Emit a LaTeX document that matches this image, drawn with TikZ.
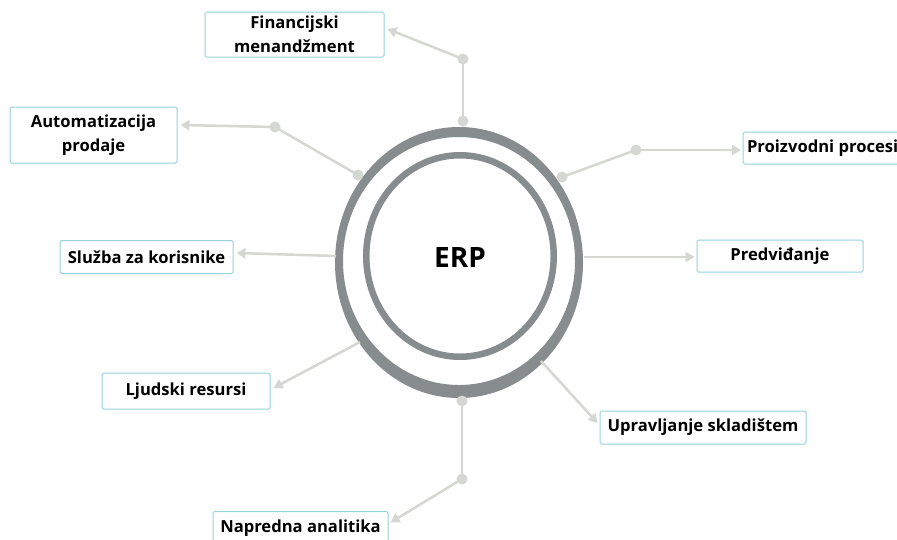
\documentclass[tikz,border=0pt]{standalone}
\usepackage{fontspec}
\setmainfont{Open Sans}
\usetikzlibrary{arrows.meta,calc}
\definecolor{ringgray}{HTML}{878C8F}
\definecolor{linkgray}{HTML}{D4D7D2}
\definecolor{boxteal}{HTML}{94D3DA}
\tikzset{
  box/.style={draw=boxteal, line width=1pt, rounded corners=1.5pt, fill=white,
    inner sep=0pt, align=center, font=\fontsize{16.6}{23.5}\selectfont\bfseries},
  link/.style={draw=linkgray, line width=2.5pt},
  linkarrow/.style={link, -{Triangle[length=9pt,width=10pt]}},
  dot/.style={circle, fill=linkgray, inner sep=0pt, minimum size=11pt},
}
\begin{document}
\begin{tikzpicture}[x=1pt,y=-1pt]
\useasboundingbox (0,0) rectangle (897,539);
\clip (0,0) rectangle (897,539);
\fill[white] (0,0) rectangle (897,539);

% boxes
\node[box, minimum width=179pt, minimum height=45pt] (fin) at (294.5,34.5) {Financijski\\menandžment};
\node[box, minimum width=167pt, minimum height=56pt] (auto) at (93.5,135) {Automatizacija\\prodaje};
\draw[boxteal, line width=1pt, rounded corners=1.5pt, fill=white] (743,132) rectangle (910,164);
\node[box, draw=none, fill=none, anchor=west, minimum height=32pt, inner xsep=1pt] (proc) at (745.5,148) {Proizvodni procesi};
\node[box, minimum width=173pt, minimum height=33pt] (sluz) at (146.5,257) {Služba za korisnike};
\node[box, minimum width=166pt, minimum height=32pt] (pred) at (780,256) {Predviđanje};
\node[box, minimum width=168pt, minimum height=36pt] (ljud) at (186,391) {Ljudski resursi};
\node[box, minimum width=206pt, minimum height=33pt] (uprav) at (703,427.5) {Upravljanje skladištem};
\node[box, minimum width=175pt, minimum height=34pt] (napr) at (300.5,528.5) {Napredna analitika};

% ERP rings
\fill[ringgray, even odd rule] (459,262.5) ellipse [x radius=124, y radius=135.5]
                               (459,261) ellipse [x radius=116, y radius=124];
\fill[ringgray, even odd rule] (460,256) ellipse [x radius=97, y radius=104]
                               (460,256) ellipse [x radius=90.5, y radius=97.5];
\node[font=\fontsize{28}{30}\selectfont\bfseries] (erp) at (460,257) {ERP};

% connector points
\coordinate (r1) at (463,121);
\coordinate (r2) at (358,175);
\coordinate (r3) at (562,177);
\coordinate (r4) at (336,256);
\coordinate (r5) at (584,257);
\coordinate (r6) at (360,342);
\coordinate (r7) at (541,361);
\coordinate (r8) at (462,401);
\coordinate (k1) at (463,59);
\coordinate (k2) at (275,127);
\coordinate (k3) at (636,150);
\coordinate (k8) at (462,479);

% connectors
\draw[link] (r1) -- (k1);
\draw[linkarrow] (k1) -- ($(fin.east)+(3,-5.5)$);
\draw[link] (r2) -- (k2);
\draw[linkarrow] (k2) -- ($(auto.east)+(3,-10)$);
\draw[link] (r3) -- (k3);
\draw[linkarrow] (k3) -- ($(proc.west)+(-4.5,2)$);
\draw[linkarrow] (r4) -- ($(sluz.east)+(3,-4)$);
\draw[linkarrow] (r5) -- ($(pred.west)+(-2,1)$);
\draw[linkarrow] (r6) -- ($(ljud.east)+(3,-3)$);
\draw[linkarrow] (r7) -- ($(uprav.west)+(-2,-4.5)$);
\draw[link] (r8) -- (k8);
\draw[linkarrow] (k8) -- ($(napr.east)+(2,-6)$);

% dots
\foreach \p in {r1,r2,r3,r8,k1,k2,k3,k8} \node[dot] at (\p) {};
\end{tikzpicture}
\end{document}
